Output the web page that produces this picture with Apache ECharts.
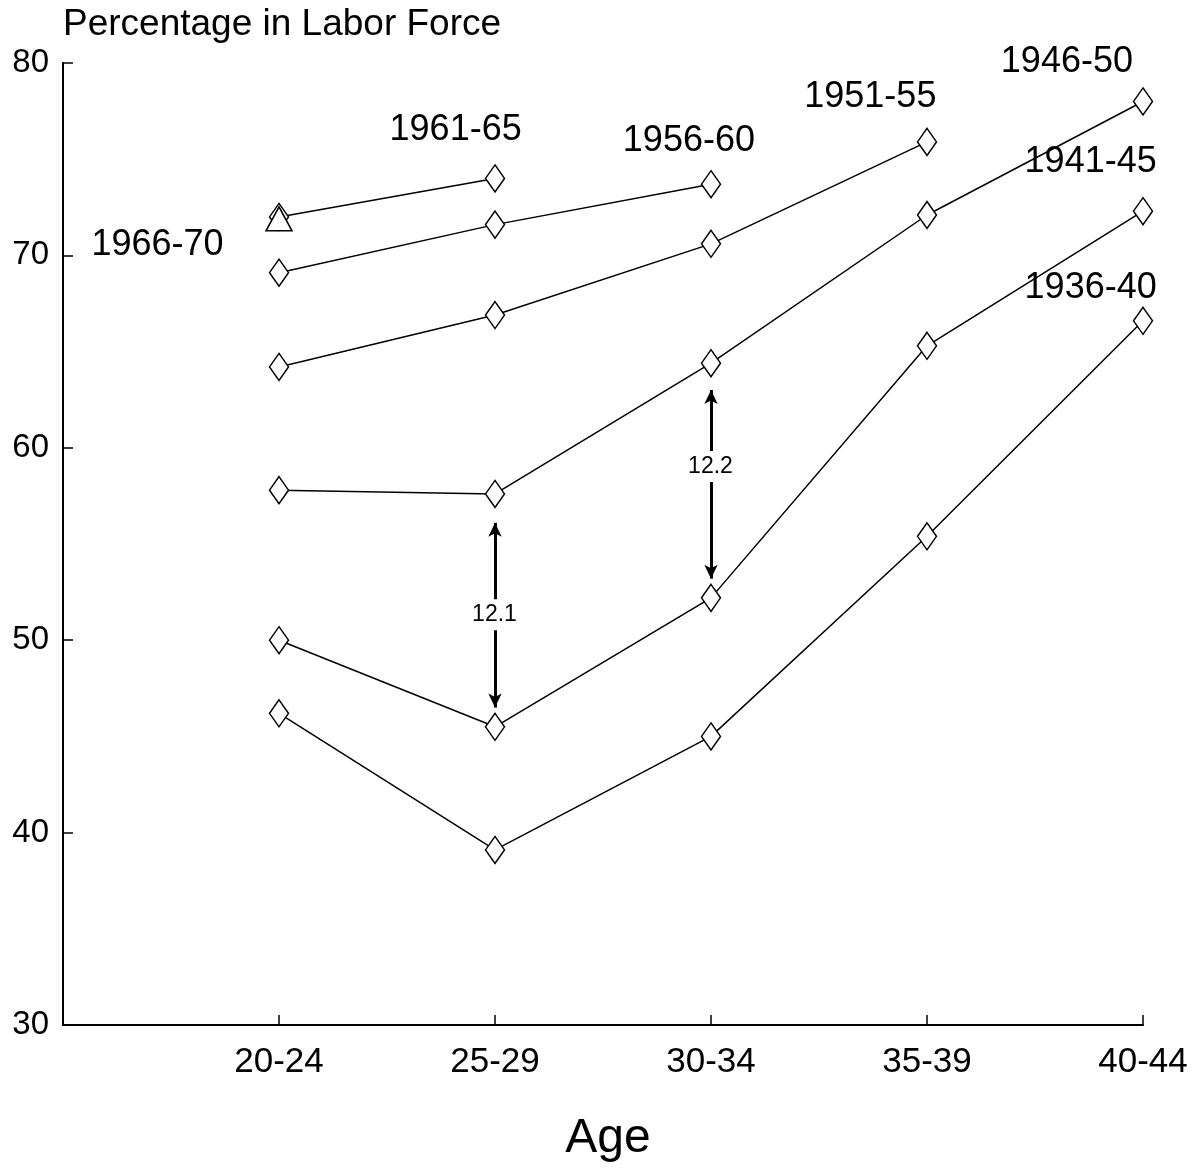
<!DOCTYPE html>
<html>
<head>
<meta charset="utf-8">
<script src="https://cdn.jsdelivr.net/npm/echarts@6/dist/echarts.min.js"></script>
<style>html,body{margin:0;padding:0;background:#fff;}#c{width:1198px;height:1168px;}</style>
</head>
<body>
<div id="c"></div>
<script>
const ageGroups = ['20-24', '25-29', '30-34', '35-39', '40-44'];
const cohorts = ['1936-40', '1941-45', '1946-50', '1951-55', '1956-60', '1961-65', '1966-70'];
const c1936 = [46.2, 39.1, 45.0, 55.4, 66.6];
const c1941 = [50.0, 45.5, 52.2, 65.3, 72.3];
const c1946 = [57.8, 57.6, 64.4, 72.1, 78.0];
const c1951 = [64.2, 66.9, 70.6, 75.9];
const c1956 = [69.1, 71.6, 73.7];
const c1961 = [72.0, 74.0];
const c1966 = [71.9];
const gapValues = ['12.1', '12.2'];
const yTicks = [30, 40, 50, 60, 70, 80];

const seriesValues = [c1936, c1941, c1946, c1951, c1956, c1961, c1966];

// annotation anchor points (data coordinates)
const cohortLabelAt = [[3.76, 68.3], [3.76, 74.8], [3.65, 80.0], [2.74, 78.2], [1.9, 75.9], [0.82, 76.5], [-0.56, 70.5]];
const gapArrows = [[1, 56.1, 46.5, 51.3], [2, 63.0, 53.2, 59.0]];

const FONT = '"Liberation Sans", Arial, sans-serif';

const chart = echarts.init(document.getElementById('c'), null, {renderer: 'canvas'});

const series = seriesValues.map((vals, si) => ({
  type: 'line',
  name: cohorts[si],
  data: vals.map((v, i) => [i, v]),
  symbol: si === 6 ? 'triangle' : 'diamond',
  symbolSize: si === 6 ? [26, 24] : [19, 27],
  lineStyle: {color: '#000', width: 1.5},
  itemStyle: {color: '#fff', borderColor: '#000', borderWidth: 1.5},
  z: si === 6 ? 3 : 2,
  animation: false
}));

series.push({
  type: 'line',
  data: [],
  markLine: {
    silent: true,
    symbol: ['arrow', 'arrow'],
    symbolSize: [10, 14],
    lineStyle: {color: '#000', width: 3, type: 'solid'},
    label: {show: false},
    data: gapArrows.map(g => [{coord: [g[0], g[1]]}, {coord: [g[0], g[2]]}]),
    animation: false
  },
  animation: false
});

series.push({
  type: 'scatter',
  symbolSize: 1,
  itemStyle: {color: 'rgba(0,0,0,0)', opacity: 1},
  data: cohorts.map((c, i) => ({name: c, value: cohortLabelAt[i]})),
  label: {show: true, position: [0, 0], align: 'center', verticalAlign: 'middle',
          formatter: '{b}', color: '#000', fontSize: 36, fontFamily: FONT},
  z: 5,
  animation: false
});

series.push({
  type: 'scatter',
  symbolSize: 1,
  itemStyle: {color: 'rgba(0,0,0,0)', opacity: 1},
  data: gapValues.map((t, i) => ({name: t, value: [gapArrows[i][0], gapArrows[i][3]]})),
  label: {show: true, position: [0, 0], align: 'center', verticalAlign: 'middle',
          formatter: '{b}', color: '#000', fontSize: 23, fontFamily: FONT,
          backgroundColor: '#fff', padding: [4, 1]},
  z: 6,
  animation: false
});

chart.setOption({
  backgroundColor: '#fff',
  animation: false,
  grid: {left: 63, right: 55, top: 63, bottom: 136, containLabel: false},
  xAxis: {
    type: 'value',
    min: -1, max: 4, interval: 1,
    name: 'Age',
    nameLocation: 'middle',
    nameGap: 90,
    nameTextStyle: {fontSize: 48, fontFamily: FONT, color: '#000', padding: [0, 0, 0, 10]},
    axisLine: {show: true, onZero: false, lineStyle: {color: '#000', width: 2}},
    axisTick: {show: true, inside: true, length: 10, lineStyle: {color: '#000', width: 1.5}},
    axisLabel: {
      color: '#000', fontSize: 35, fontFamily: FONT, margin: 20,
      formatter: v => (v >= 0 && v < ageGroups.length && Number.isInteger(v)) ? ageGroups[v] : ''
    },
    splitLine: {show: false}
  },
  yAxis: {
    type: 'value',
    min: yTicks[0], max: yTicks[yTicks.length - 1], interval: 10,
    name: 'Percentage in Labor Force',
    nameLocation: 'end',
    nameGap: 38,
    nameTextStyle: {fontSize: 37, fontFamily: FONT, color: '#000', align: 'left', verticalAlign: 'middle'},
    axisLine: {show: true, onZero: false, lineStyle: {color: '#000', width: 2}},
    axisTick: {show: true, inside: true, length: 10, lineStyle: {color: '#000', width: 1.5}},
    axisLabel: {color: '#000', fontSize: 33, fontFamily: FONT, margin: 14},
    splitLine: {show: false}
  },
  series: series
});
</script>
</body>
</html>
